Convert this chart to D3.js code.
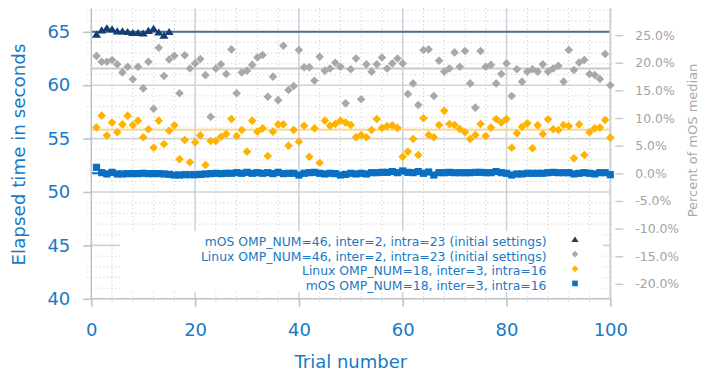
<!DOCTYPE html>
<html>
<head>
<meta charset="utf-8">
<script src="https://cdn.jsdelivr.net/npm/d3@7"></script>
<style>
  html, body { margin: 0; padding: 0; background: #fff; }
  svg { display: block; font-family: "DejaVu Sans", sans-serif; }
</style>
</head>
<body>
<svg id="chart" width="701" height="371"></svg>
<script>
// Elapsed time per trial (seconds), trials 1..100
const trials = d3.range(1, 101);

const mos46 = [64.75, 65.15, 65.35, 65.25, 65.05, 65.05, 65.0, 64.9, 64.9, 64.85,
               65.1, 65.3, 64.95, 64.65, 65.0];

const linux46 = [62.73, 62.2, 62.2, 62.36, 61.96, 61.2, 61.73, 60.55, 61.73, 59.7,
                 62.2, 57.8, 63.5, 60.86, 62.4, 62.76, 59.24, 62.8, 61.57, 62.04,
                 62.45, 60.94, 57.05, 61.57, 61.96, 61.05, 63.35, 59.24, 61.2, 61.36,
                 61.9, 62.6, 62.83, 58.92, 60.8, 58.6, 63.7, 59.55, 59.92, 63.3,
                 61.67, 61.67, 60.42, 62.67, 61.36, 61.57, 62.1, 61.73, 58.3, 61.5,
                 62.5, 58.68, 61.96, 61.27, 61.96, 62.6, 61.57, 62.04, 62.5, 62.04,
                 59.17, 60.17, 58.14, 63.3, 63.35, 58.99, 62.3, 61.27, 61.57, 63.07,
                 61.73, 63.2, 60.17, 57.9, 63.2, 61.73, 61.9, 60.17, 61.05, 62.04,
                 58.99, 61.5, 60.33, 61.27, 61.5, 61.27, 61.96, 61.27, 61.57, 61.82,
                 60.33, 63.3, 61.42, 62.13, 62.36, 61.05, 60.95, 60.58, 62.92, 60.0];

const linux18 = [56.05, 57.15, 55.28, 56.5, 55.6, 56.33, 57.15, 56.27, 56.68, 55.12,
                 55.87, 54.15, 56.68, 54.5, 55.74, 56.24, 53.06, 54.87, 52.78, 54.65,
                 55.3, 52.53, 54.78, 54.78, 55.18, 55.43, 56.84, 55.25, 55.8, 53.78,
                 56.68, 55.65, 55.96, 53.37, 55.65, 56.33, 56.33, 54.34, 55.8, 54.71,
                 56.2, 53.3, 55.96, 52.74, 56.68, 56.2, 56.36, 56.68, 56.5, 56.27,
                 55.12, 55.34, 55.12, 55.8, 56.84, 56.0, 56.17, 56.24, 56.0, 53.3,
                 53.78, 54.96, 53.46, 56.9, 55.34, 55.12, 56.27, 57.6, 56.36, 56.27,
                 55.9, 55.6, 54.96, 55.34, 56.37, 55.25, 56.03, 56.84, 56.5, 56.84,
                 54.15, 55.5, 56.11, 56.43, 54.09, 56.24, 55.43, 56.8, 55.87, 55.8,
                 56.27, 56.18, 53.15, 56.33, 53.46, 55.59, 55.96, 56.03, 56.74, 55.09];

const mos18 = [52.31, 51.81, 51.69, 51.84, 51.69, 51.69, 51.72, 51.72, 51.72, 51.75,
               51.72, 51.72, 51.72, 51.69, 51.65, 51.59, 51.59, 51.62, 51.62, 51.62,
               51.65, 51.69, 51.72, 51.75, 51.72, 51.75, 51.75, 51.81, 51.75, 51.84,
               51.75, 51.81, 51.75, 51.81, 51.72, 51.84, 51.72, 51.75, 51.75, 51.59,
               51.75, 51.81, 51.84, 51.75, 51.69, 51.75, 51.72, 51.59, 51.65, 51.75,
               51.69, 51.75, 51.69, 51.81, 51.81, 51.84, 51.84, 51.91, 51.81, 51.97,
               51.84, 51.81, 51.91, 51.75, 51.87, 51.59, 51.81, 51.81, 51.84, 51.81,
               51.81, 51.81, 51.81, 51.84, 51.84, 51.81, 51.81, 51.91, 51.81, 51.75,
               51.59, 51.69, 51.69, 51.75, 51.75, 51.75, 51.75, 51.81, 51.84, 51.81,
               51.81, 51.81, 51.69, 51.75, 51.81, 51.75, 51.69, 51.81, 51.81, 51.62];

const xTicks = [0, 20, 40, 60, 80, 100];
const yTicks = [40, 45, 50, 55, 60, 65];
const pctTicks = [25, 20, 15, 10, 5, 0, -5, -10, -15, -20];

const seriesLabels = [
  "mOS OMP_NUM=46, inter=2, intra=23 (initial settings)",
  "Linux OMP_NUM=46, inter=2, intra=23 (initial settings)",
  "Linux OMP_NUM=18, inter=3, intra=16",
  "mOS OMP_NUM=18, inter=3, intra=16"
];

// ---- scales ----
const svg = d3.select("#chart");
const x = d3.scaleLinear().domain([0, 100]).range([91.3, 610.3]);
const y = d3.scaleLinear().domain([40, 67.2]).range([298.8, 8.3]);
const [x0, x1] = x.range();
const [yBottom, yTop] = y.range();

// right axis: percent relative to the median of the tuned mOS runs
const base = d3.median(mos18);
const yPct = d3.scaleLinear()
  .domain(y.domain().map(v => (v / base - 1) * 100))
  .range(y.range());

const blue = "#1a78c4";
const grayText = "#a3a3a3";
const gridCol = "#cfd3d7";

// ---- marker shapes ----
const shapes = {
  triangle: s => `M0,${-0.85 * s}L${s},${0.7 * s}L${-s},${0.7 * s}Z`,
  diamond: s => `M0,${-s}L${s},0L0,${s}L${-s},0Z`,
  square: s => `M${-s},${-s}H${s}V${s}H${-s}Z`
};

const series = [
  { name: seriesLabels[0], values: mos46,   color: "#123e72", shape: "triangle", size: 4.6, median: "#4d6f98" },
  { name: seriesLabels[1], values: linux46, color: "#a6a9ac", shape: "diamond",  size: 4.3, median: "#c6cacd" },
  { name: seriesLabels[2], values: linux18, color: "#ffb300", shape: "diamond",  size: 4.3, median: "#f9d98e" },
  { name: seriesLabels[3], values: mos18,   color: "#0a6fc2", shape: "square",   size: 3.6, median: "#0a6fc2" }
];

// ---- grid ----
const grid = svg.append("g");
const minorY = d3.range(41, 68).filter(v => v % 5 !== 0);
const minorX = d3.range(4, 100, 4).filter(v => v % 20 !== 0);

grid.selectAll(".my").data(minorY).join("line")
  .attr("x1", x0 - 4).attr("x2", x1 + 4)
  .attr("y1", d => y(d)).attr("y2", d => y(d))
  .attr("stroke", "#c4c4c4").attr("stroke-width", 1)
  .attr("stroke-dasharray", "1,3");
grid.selectAll(".mx").data(minorX).join("line")
  .attr("x1", d => x(d)).attr("x2", d => x(d))
  .attr("y1", yTop).attr("y2", yBottom + 5)
  .attr("stroke", "#c4c4c4").attr("stroke-width", 1)
  .attr("stroke-dasharray", "1,3");

grid.selectAll(".gy").data(yTicks.filter(v => v > 40)).join("line")
  .attr("x1", x0).attr("x2", x1)
  .attr("y1", d => y(d)).attr("y2", d => y(d))
  .attr("stroke", gridCol).attr("stroke-width", 1.6);
grid.selectAll(".gx").data(xTicks.filter(v => v > 0 && v < 100)).join("line")
  .attr("x1", d => x(d)).attr("x2", d => x(d))
  .attr("y1", yTop).attr("y2", yBottom)
  .attr("stroke", gridCol).attr("stroke-width", 1.6);

// ---- median lines ----
svg.append("g").selectAll("line").data(series).join("line")
  .attr("x1", x0).attr("x2", x1)
  .attr("y1", d => y(d3.median(d.values))).attr("y2", d => y(d3.median(d.values)))
  .attr("stroke", d => d.median).attr("stroke-width", 2);

// ---- spines ----
svg.append("line").attr("x1", x0).attr("x2", x0).attr("y1", yTop).attr("y2", yBottom)
  .attr("stroke", "#bfc3c7").attr("stroke-width", 1.6);
svg.append("line").attr("x1", x1).attr("x2", x1).attr("y1", yTop).attr("y2", yBottom)
  .attr("stroke", "#cdd1d5").attr("stroke-width", 2);
svg.append("line").attr("x1", x0).attr("x2", x1).attr("y1", yBottom).attr("y2", yBottom)
  .attr("stroke", "#bfc3c7").attr("stroke-width", 1.6);

// ---- axes ----
const styleAxis = (g, col, size) => {
  g.select(".domain").remove();
  g.selectAll(".tick line").attr("stroke", "#bfc3c7").attr("stroke-width", 1.6);
  g.selectAll(".tick text").attr("fill", col).attr("font-size", size)
    .attr("font-family", "DejaVu Sans");
};

svg.append("g").attr("transform", `translate(${x0},0)`)
  .call(d3.axisLeft(y).tickValues(yTicks).tickFormat(d3.format("d")).tickSize(8).tickPadding(13))
  .call(g => styleAxis(g, blue, 18));

svg.append("g").attr("transform", `translate(0,${yBottom})`)
  .call(d3.axisBottom(x).tickValues(xTicks).tickFormat(d3.format("d")).tickSize(8).tickPadding(16))
  .call(g => styleAxis(g, blue, 18));

svg.append("g").attr("transform", `translate(${x1 + 5},0)`)
  .call(d3.axisRight(yPct).tickValues(pctTicks).tickFormat(d => d.toFixed(1) + "%").tickSize(8).tickPadding(12))
  .call(g => styleAxis(g, grayText, 12.4))
  .call(g => g.selectAll(".tick line").attr("stroke", "#c8c8c8").attr("stroke-width", 1.4));

// ---- data points ----
const pts = svg.append("g");
series.forEach(s => {
  pts.append("g").selectAll("path").data(s.values).join("path")
    .attr("transform", (d, i) => `translate(${x(trials[i])},${y(d)})`)
    .attr("d", shapes[s.shape](s.size))
    .attr("fill", s.color);
});

// ---- legend ----
const leg = svg.append("g");
leg.append("rect").attr("x", 120).attr("y", 231).attr("width", 483).attr("height", 61)
  .attr("fill", "#fff");
const baselines = [246, 260.6, 275.2, 289.8];
series.forEach((s, i) => {
  leg.append("text").attr("x", 546.5).attr("y", baselines[i])
    .attr("text-anchor", "end").attr("fill", blue).attr("font-size", 12.4)
    .text(s.name);
  leg.append("path")
    .attr("transform", `translate(575,${baselines[i] - 6.4})`)
    .attr("d", shapes[s.shape](s.size * 0.78))
    .attr("fill", s.color);
});

// ---- axis titles ----
svg.append("text").attr("x", (x0 + x1) / 2).attr("y", 368)
  .attr("text-anchor", "middle").attr("fill", blue).attr("font-size", 18)
  .text("Trial number");
svg.append("text").attr("transform", "translate(24.5,154.5) rotate(-90)")
  .attr("text-anchor", "middle").attr("fill", blue).attr("font-size", 18.3)
  .text("Elapsed time in seconds");
svg.append("text").attr("transform", "translate(696.5,140.5) rotate(-90)")
  .attr("text-anchor", "middle").attr("fill", "#a8a8a8").attr("font-size", 13)
  .text("Percent of mOS median");
</script>
</body>
</html>
